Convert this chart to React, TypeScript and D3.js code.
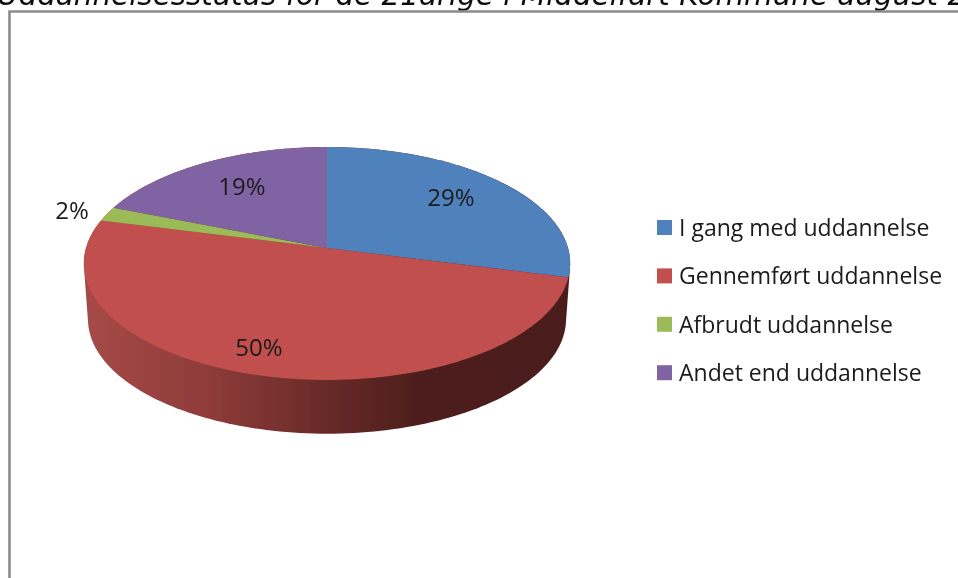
import React from 'react';
import * as d3 from 'd3';

const categories = ['I gang med uddannelse', 'Gennemført uddannelse', 'Afbrudt uddannelse', 'Andet end uddannelse'];
const values = [29, 50, 2, 19];
const colors = ['#4f81bd', '#c0504d', '#9bbb59', '#8064a2'];
const title = 'Uddannelsesstatus for de 21årige i Middelfart Kommune august 2011';

const width = 958;
const height = 578;
const apex = { x: 327, y: 248 };
const rx = 241;
const ry = 114.4;
const tilt = 0.133;
const depth = 56;
const baseScale = 0.983;

// circle angle (clockwise from top) to screen, with the perspective of the 3d pie
const project = (a: number, dy = 0, s = 1): [number, number] => {
  const u = Math.sin(a);
  const v = -Math.cos(a);
  const w = 1 - tilt * v;
  return [apex.x + (s * rx * u) / w, apex.y + (s * ry * v) / w + dy];
};

const arcPoints = (a0: number, a1: number, dy = 0, s = 1) => {
  const n = Math.max(2, Math.ceil(Math.abs(a1 - a0) * 40));
  return d3.range(n + 1).map((i) => project(a0 + ((a1 - a0) * i) / n, dy, s));
};

const line = d3.line();
const slices = d3.pie<number>().sort(null)(values);

export default function App() {
  // whole outline of top and bottom rim, the top faces cover the upper part
  const silhouette = d3.polygonHull([
    ...arcPoints(0, 2 * Math.PI),
    ...arcPoints(0, 2 * Math.PI, depth, baseScale),
  ]);

  return (
    <svg
      width={width}
      height={height}
      style={{ position: 'absolute', left: 0, top: 0, background: '#fff', fontFamily: 'Open Sans' }}
    >
      <defs>
        <linearGradient id="wall" gradientUnits="userSpaceOnUse" x1={84} x2={570} y1={0} y2={0}>
          <stop offset="0" stopColor="#a64a47" />
          <stop offset="0.25" stopColor="#8f3c3a" />
          <stop offset="0.5" stopColor="#682a28" />
          <stop offset="0.68" stopColor="#4e1f1d" />
          <stop offset="1" stopColor="#4b1e1c" />
        </linearGradient>
        <filter id="soft" x="0" y="0" width="100%" height="100%">
          <feGaussianBlur stdDeviation="0.5" />
        </filter>
      </defs>
      <g filter="url(#soft)">
        <text x={-3} y={5} fontFamily="DejaVu Sans" fontStyle="italic" fontSize={29.4} fill="#111">
          {title}
        </text>
        <path d="M9.5,578V11.5H958" fill="none" stroke="#8c8c8c" strokeWidth={2.6} />
        <path d={line(silhouette!) + 'Z'} fill="url(#wall)" />
        {slices.map((s, i) => (
          <path
            key={categories[i]}
            d={line([[apex.x, apex.y], ...arcPoints(s.startAngle, s.endAngle)]) + 'Z'}
            fill={colors[i]}
          />
        ))}
        <g fontSize={24} fill="#1a1a1a" textAnchor="middle">
          <text x={451} y={206}>{values[0]}%</text>
          <text x={259} y={356}>{values[1]}%</text>
          <text x={72} y={219}>{values[2]}%</text>
          <text x={242} y={195}>{values[3]}%</text>
        </g>
        {categories.map((c, i) => (
          <g key={c} transform={`translate(657,${220 + i * 48.4})`}>
            <rect width={15} height={15} fill={colors[i]} />
            <text x={22} y={16} fontSize={23} fill="#1a1a1a">{c}</text>
          </g>
        ))}
      </g>
    </svg>
  );
}
